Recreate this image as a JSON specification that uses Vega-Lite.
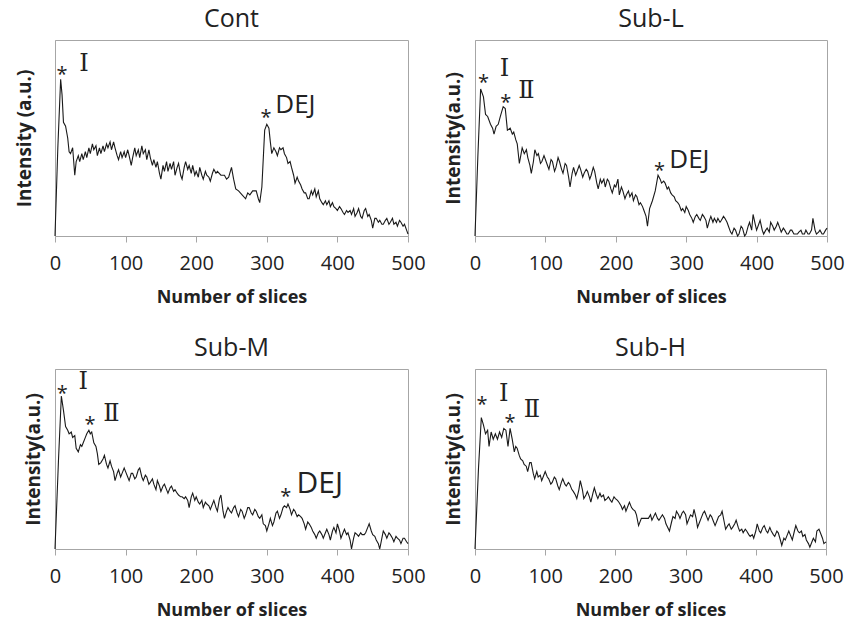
{
  "$schema": "https://vega.github.io/schema/vega-lite/v6.json",
  "background": "white",
  "padding": {"left": 14, "top": 6, "right": 5, "bottom": 5},
  "bounds": "flush",
  "spacing": 329,
  "config": {
    "font": "Open Sans",
    "view": {"stroke": "#a6a6a6", "strokeWidth": 1},
    "title": {"fontSize": 25, "fontWeight": "normal", "color": "#222222", "offset": 8, "font": "Open Sans"},
    "axisX": {"domainColor": "#a6a6a6", "tickColor": "#a6a6a6", "tickSize": 6, "labelFontSize": 20, "labelColor": "#222222", "labelPadding": 11, "labelFlush": false, "titleFontSize": 18, "titleFontWeight": "bold", "titleColor": "#222222", "titlePadding": 15, "grid": false, "labelFont": "Open Sans", "titleFont": "Open Sans"},
    "axisY": {"domainColor": "#a6a6a6", "labels": false, "ticks": false, "grid": false, "titleFontSize": 19, "titleFontWeight": "bold", "titleColor": "#222222", "titlePadding": 12, "titleFont": "Open Sans"}
  },
  "datasets": {
    "cont": [
      {"slice":0,"intensity":0},{"slice":4,"intensity":45},{"slice":8,"intensity":80},{"slice":10,"intensity":72},{"slice":12,"intensity":58},{"slice":15,"intensity":56},{"slice":18,"intensity":50},{"slice":20,"intensity":43},{"slice":22,"intensity":42},{"slice":25,"intensity":45},{"slice":28,"intensity":31},{"slice":30,"intensity":38},{"slice":33,"intensity":41},{"slice":35,"intensity":38},{"slice":38,"intensity":42},{"slice":40,"intensity":39},{"slice":43,"intensity":43},{"slice":45,"intensity":40},{"slice":48,"intensity":45},{"slice":50,"intensity":42},{"slice":53,"intensity":47},{"slice":55,"intensity":44},{"slice":58,"intensity":46},{"slice":60,"intensity":41},{"slice":63,"intensity":45},{"slice":65,"intensity":42},{"slice":68,"intensity":46},{"slice":70,"intensity":43},{"slice":73,"intensity":47},{"slice":75,"intensity":45},{"slice":78,"intensity":48},{"slice":80,"intensity":44},{"slice":83,"intensity":48},{"slice":85,"intensity":45},{"slice":88,"intensity":41},{"slice":90,"intensity":39},{"slice":93,"intensity":43},{"slice":95,"intensity":40},{"slice":98,"intensity":43},{"slice":100,"intensity":40},{"slice":103,"intensity":44},{"slice":105,"intensity":41},{"slice":108,"intensity":36},{"slice":110,"intensity":40},{"slice":113,"intensity":45},{"slice":115,"intensity":41},{"slice":118,"intensity":44},{"slice":120,"intensity":40},{"slice":123,"intensity":46},{"slice":125,"intensity":42},{"slice":128,"intensity":44},{"slice":130,"intensity":39},{"slice":133,"intensity":44},{"slice":135,"intensity":40},{"slice":138,"intensity":36},{"slice":140,"intensity":39},{"slice":143,"intensity":35},{"slice":145,"intensity":38},{"slice":148,"intensity":32},{"slice":150,"intensity":29},{"slice":153,"intensity":36},{"slice":155,"intensity":33},{"slice":158,"intensity":38},{"slice":160,"intensity":33},{"slice":163,"intensity":37},{"slice":165,"intensity":34},{"slice":168,"intensity":38},{"slice":170,"intensity":31},{"slice":173,"intensity":35},{"slice":175,"intensity":37},{"slice":178,"intensity":31},{"slice":180,"intensity":29},{"slice":183,"intensity":35},{"slice":185,"intensity":38},{"slice":188,"intensity":34},{"slice":190,"intensity":36},{"slice":193,"intensity":32},{"slice":195,"intensity":36},{"slice":198,"intensity":31},{"slice":200,"intensity":33},{"slice":203,"intensity":30},{"slice":205,"intensity":35},{"slice":208,"intensity":31},{"slice":210,"intensity":29},{"slice":213,"intensity":33},{"slice":215,"intensity":31},{"slice":218,"intensity":30},{"slice":220,"intensity":28},{"slice":223,"intensity":32},{"slice":225,"intensity":34},{"slice":228,"intensity":32},{"slice":230,"intensity":33},{"slice":235,"intensity":31},{"slice":240,"intensity":31},{"slice":243,"intensity":29},{"slice":246,"intensity":30},{"slice":250,"intensity":35},{"slice":253,"intensity":29},{"slice":256,"intensity":24},{"slice":260,"intensity":23},{"slice":265,"intensity":21},{"slice":270,"intensity":19},{"slice":273,"intensity":22},{"slice":276,"intensity":21},{"slice":280,"intensity":23},{"slice":285,"intensity":23},{"slice":288,"intensity":19},{"slice":290,"intensity":17},{"slice":293,"intensity":25},{"slice":297,"intensity":54},{"slice":300,"intensity":57},{"slice":303,"intensity":55},{"slice":305,"intensity":48},{"slice":307,"intensity":42},{"slice":310,"intensity":45},{"slice":313,"intensity":43},{"slice":315,"intensity":41},{"slice":318,"intensity":45},{"slice":320,"intensity":44},{"slice":323,"intensity":45},{"slice":325,"intensity":42},{"slice":328,"intensity":40},{"slice":330,"intensity":37},{"slice":333,"intensity":38},{"slice":335,"intensity":35},{"slice":338,"intensity":31},{"slice":340,"intensity":27},{"slice":343,"intensity":30},{"slice":345,"intensity":28},{"slice":348,"intensity":26},{"slice":350,"intensity":24},{"slice":353,"intensity":22},{"slice":355,"intensity":22},{"slice":358,"intensity":19},{"slice":360,"intensity":19},{"slice":363,"intensity":23},{"slice":365,"intensity":21},{"slice":368,"intensity":24},{"slice":370,"intensity":20},{"slice":373,"intensity":23},{"slice":375,"intensity":19},{"slice":378,"intensity":17},{"slice":380,"intensity":16},{"slice":383,"intensity":18},{"slice":385,"intensity":16},{"slice":388,"intensity":18},{"slice":390,"intensity":15},{"slice":393,"intensity":17},{"slice":395,"intensity":15},{"slice":398,"intensity":14},{"slice":400,"intensity":13},{"slice":403,"intensity":15},{"slice":405,"intensity":14},{"slice":408,"intensity":12},{"slice":410,"intensity":11},{"slice":413,"intensity":13},{"slice":415,"intensity":12},{"slice":418,"intensity":13},{"slice":420,"intensity":11},{"slice":423,"intensity":14},{"slice":425,"intensity":10},{"slice":428,"intensity":12},{"slice":430,"intensity":14},{"slice":433,"intensity":10},{"slice":435,"intensity":9},{"slice":438,"intensity":13},{"slice":440,"intensity":14},{"slice":443,"intensity":10},{"slice":445,"intensity":11},{"slice":448,"intensity":8},{"slice":450,"intensity":4},{"slice":453,"intensity":9},{"slice":455,"intensity":9},{"slice":458,"intensity":7},{"slice":460,"intensity":8},{"slice":463,"intensity":6},{"slice":465,"intensity":6},{"slice":468,"intensity":8},{"slice":470,"intensity":9},{"slice":473,"intensity":6},{"slice":475,"intensity":7},{"slice":478,"intensity":9},{"slice":480,"intensity":6},{"slice":483,"intensity":7},{"slice":485,"intensity":5},{"slice":488,"intensity":8},{"slice":490,"intensity":7},{"slice":493,"intensity":5},{"slice":495,"intensity":6},{"slice":498,"intensity":3},{"slice":500,"intensity":1}
    ],
    "subl": [
      {"slice":0,"intensity":0},{"slice":4,"intensity":40},{"slice":8,"intensity":75},{"slice":12,"intensity":71},{"slice":15,"intensity":62},{"slice":18,"intensity":61},{"slice":22,"intensity":57},{"slice":25,"intensity":55},{"slice":27,"intensity":52},{"slice":30,"intensity":56},{"slice":33,"intensity":57},{"slice":36,"intensity":61},{"slice":40,"intensity":66},{"slice":43,"intensity":65},{"slice":46,"intensity":54},{"slice":50,"intensity":55},{"slice":53,"intensity":52},{"slice":55,"intensity":53},{"slice":58,"intensity":49},{"slice":60,"intensity":47},{"slice":63,"intensity":37},{"slice":65,"intensity":41},{"slice":67,"intensity":45},{"slice":70,"intensity":42},{"slice":73,"intensity":44},{"slice":75,"intensity":40},{"slice":78,"intensity":36},{"slice":80,"intensity":32},{"slice":83,"intensity":38},{"slice":85,"intensity":44},{"slice":88,"intensity":41},{"slice":90,"intensity":42},{"slice":93,"intensity":37},{"slice":95,"intensity":38},{"slice":98,"intensity":41},{"slice":100,"intensity":39},{"slice":103,"intensity":36},{"slice":105,"intensity":34},{"slice":108,"intensity":39},{"slice":110,"intensity":38},{"slice":113,"intensity":33},{"slice":115,"intensity":35},{"slice":118,"intensity":40},{"slice":120,"intensity":38},{"slice":123,"intensity":34},{"slice":125,"intensity":32},{"slice":128,"intensity":37},{"slice":130,"intensity":36},{"slice":133,"intensity":30},{"slice":135,"intensity":25},{"slice":138,"intensity":32},{"slice":140,"intensity":35},{"slice":143,"intensity":31},{"slice":145,"intensity":33},{"slice":148,"intensity":36},{"slice":150,"intensity":34},{"slice":153,"intensity":30},{"slice":155,"intensity":32},{"slice":158,"intensity":34},{"slice":160,"intensity":33},{"slice":163,"intensity":29},{"slice":165,"intensity":31},{"slice":168,"intensity":35},{"slice":170,"intensity":33},{"slice":173,"intensity":27},{"slice":175,"intensity":24},{"slice":178,"intensity":29},{"slice":180,"intensity":27},{"slice":183,"intensity":29},{"slice":185,"intensity":25},{"slice":188,"intensity":29},{"slice":190,"intensity":28},{"slice":193,"intensity":24},{"slice":195,"intensity":22},{"slice":198,"intensity":26},{"slice":200,"intensity":25},{"slice":203,"intensity":29},{"slice":205,"intensity":21},{"slice":208,"intensity":25},{"slice":210,"intensity":23},{"slice":213,"intensity":19},{"slice":215,"intensity":21},{"slice":218,"intensity":23},{"slice":220,"intensity":20},{"slice":223,"intensity":22},{"slice":225,"intensity":18},{"slice":228,"intensity":21},{"slice":230,"intensity":20},{"slice":233,"intensity":16},{"slice":235,"intensity":17},{"slice":238,"intensity":15},{"slice":240,"intensity":13},{"slice":243,"intensity":10},{"slice":245,"intensity":5},{"slice":248,"intensity":14},{"slice":252,"intensity":18},{"slice":256,"intensity":23},{"slice":260,"intensity":31},{"slice":263,"intensity":29},{"slice":265,"intensity":27},{"slice":268,"intensity":28},{"slice":270,"intensity":27},{"slice":273,"intensity":24},{"slice":275,"intensity":25},{"slice":278,"intensity":22},{"slice":280,"intensity":21},{"slice":283,"intensity":20},{"slice":285,"intensity":18},{"slice":288,"intensity":17},{"slice":290,"intensity":16},{"slice":293,"intensity":13},{"slice":295,"intensity":14},{"slice":298,"intensity":12},{"slice":300,"intensity":15},{"slice":303,"intensity":13},{"slice":305,"intensity":11},{"slice":308,"intensity":9},{"slice":310,"intensity":7},{"slice":313,"intensity":10},{"slice":315,"intensity":11},{"slice":318,"intensity":9},{"slice":320,"intensity":8},{"slice":323,"intensity":11},{"slice":325,"intensity":10},{"slice":328,"intensity":8},{"slice":330,"intensity":4},{"slice":333,"intensity":8},{"slice":335,"intensity":10},{"slice":338,"intensity":7},{"slice":340,"intensity":9},{"slice":343,"intensity":7},{"slice":345,"intensity":9},{"slice":348,"intensity":7},{"slice":350,"intensity":8},{"slice":353,"intensity":10},{"slice":355,"intensity":9},{"slice":358,"intensity":7},{"slice":360,"intensity":5},{"slice":363,"intensity":2},{"slice":365,"intensity":1},{"slice":368,"intensity":4},{"slice":370,"intensity":3},{"slice":373,"intensity":0},{"slice":375,"intensity":1},{"slice":378,"intensity":5},{"slice":380,"intensity":4},{"slice":383,"intensity":0},{"slice":385,"intensity":1},{"slice":388,"intensity":5},{"slice":390,"intensity":7},{"slice":393,"intensity":3},{"slice":395,"intensity":11},{"slice":398,"intensity":6},{"slice":400,"intensity":3},{"slice":403,"intensity":6},{"slice":405,"intensity":8},{"slice":408,"intensity":3},{"slice":410,"intensity":1},{"slice":413,"intensity":3},{"slice":415,"intensity":4},{"slice":418,"intensity":2},{"slice":420,"intensity":7},{"slice":423,"intensity":5},{"slice":425,"intensity":3},{"slice":428,"intensity":5},{"slice":430,"intensity":7},{"slice":433,"intensity":4},{"slice":435,"intensity":2},{"slice":438,"intensity":4},{"slice":440,"intensity":3},{"slice":443,"intensity":1},{"slice":445,"intensity":1},{"slice":448,"intensity":3},{"slice":450,"intensity":3},{"slice":453,"intensity":1},{"slice":455,"intensity":1},{"slice":458,"intensity":1},{"slice":460,"intensity":2},{"slice":463,"intensity":3},{"slice":465,"intensity":1},{"slice":468,"intensity":1},{"slice":470,"intensity":3},{"slice":473,"intensity":1},{"slice":475,"intensity":1},{"slice":478,"intensity":3},{"slice":480,"intensity":9},{"slice":483,"intensity":3},{"slice":485,"intensity":1},{"slice":488,"intensity":2},{"slice":490,"intensity":3},{"slice":493,"intensity":1},{"slice":495,"intensity":1},{"slice":498,"intensity":3},{"slice":500,"intensity":4}
    ],
    "subm": [
      {"slice":0,"intensity":0},{"slice":5,"intensity":50},{"slice":9,"intensity":85},{"slice":12,"intensity":77},{"slice":15,"intensity":68},{"slice":18,"intensity":66},{"slice":20,"intensity":64},{"slice":23,"intensity":65},{"slice":25,"intensity":62},{"slice":28,"intensity":63},{"slice":30,"intensity":56},{"slice":33,"intensity":54},{"slice":36,"intensity":58},{"slice":38,"intensity":57},{"slice":40,"intensity":59},{"slice":43,"intensity":62},{"slice":45,"intensity":64},{"slice":48,"intensity":66},{"slice":50,"intensity":64},{"slice":52,"intensity":65},{"slice":55,"intensity":59},{"slice":58,"intensity":57},{"slice":60,"intensity":53},{"slice":62,"intensity":47},{"slice":65,"intensity":48},{"slice":68,"intensity":50},{"slice":70,"intensity":52},{"slice":73,"intensity":47},{"slice":75,"intensity":45},{"slice":78,"intensity":49},{"slice":80,"intensity":46},{"slice":83,"intensity":43},{"slice":85,"intensity":38},{"slice":88,"intensity":42},{"slice":90,"intensity":44},{"slice":93,"intensity":40},{"slice":95,"intensity":42},{"slice":98,"intensity":45},{"slice":100,"intensity":43},{"slice":103,"intensity":40},{"slice":105,"intensity":38},{"slice":108,"intensity":42},{"slice":110,"intensity":42},{"slice":113,"intensity":39},{"slice":115,"intensity":40},{"slice":118,"intensity":44},{"slice":120,"intensity":45},{"slice":123,"intensity":40},{"slice":125,"intensity":38},{"slice":128,"intensity":41},{"slice":130,"intensity":40},{"slice":133,"intensity":36},{"slice":135,"intensity":37},{"slice":138,"intensity":39},{"slice":140,"intensity":36},{"slice":143,"intensity":33},{"slice":145,"intensity":38},{"slice":148,"intensity":35},{"slice":150,"intensity":32},{"slice":153,"intensity":35},{"slice":155,"intensity":36},{"slice":158,"intensity":33},{"slice":160,"intensity":31},{"slice":163,"intensity":34},{"slice":165,"intensity":35},{"slice":168,"intensity":32},{"slice":170,"intensity":33},{"slice":173,"intensity":31},{"slice":175,"intensity":30},{"slice":178,"intensity":29},{"slice":180,"intensity":29},{"slice":183,"intensity":28},{"slice":185,"intensity":29},{"slice":188,"intensity":27},{"slice":190,"intensity":23},{"slice":193,"intensity":29},{"slice":195,"intensity":31},{"slice":198,"intensity":27},{"slice":200,"intensity":29},{"slice":203,"intensity":26},{"slice":205,"intensity":25},{"slice":208,"intensity":27},{"slice":210,"intensity":23},{"slice":213,"intensity":26},{"slice":215,"intensity":25},{"slice":218,"intensity":24},{"slice":220,"intensity":22},{"slice":223,"intensity":25},{"slice":225,"intensity":27},{"slice":228,"intensity":23},{"slice":230,"intensity":21},{"slice":233,"intensity":28},{"slice":235,"intensity":30},{"slice":238,"intensity":21},{"slice":240,"intensity":17},{"slice":243,"intensity":21},{"slice":245,"intensity":23},{"slice":248,"intensity":21},{"slice":250,"intensity":20},{"slice":253,"intensity":23},{"slice":255,"intensity":24},{"slice":258,"intensity":20},{"slice":260,"intensity":18},{"slice":263,"intensity":22},{"slice":265,"intensity":21},{"slice":268,"intensity":17},{"slice":270,"intensity":19},{"slice":273,"intensity":23},{"slice":275,"intensity":23},{"slice":278,"intensity":20},{"slice":280,"intensity":19},{"slice":283,"intensity":22},{"slice":285,"intensity":21},{"slice":288,"intensity":18},{"slice":290,"intensity":17},{"slice":293,"intensity":19},{"slice":295,"intensity":14},{"slice":298,"intensity":13},{"slice":300,"intensity":10},{"slice":303,"intensity":14},{"slice":305,"intensity":17},{"slice":308,"intensity":13},{"slice":310,"intensity":15},{"slice":313,"intensity":20},{"slice":315,"intensity":21},{"slice":318,"intensity":17},{"slice":320,"intensity":19},{"slice":323,"intensity":23},{"slice":325,"intensity":24},{"slice":328,"intensity":23},{"slice":330,"intensity":25},{"slice":333,"intensity":22},{"slice":335,"intensity":19},{"slice":338,"intensity":22},{"slice":340,"intensity":21},{"slice":343,"intensity":18},{"slice":345,"intensity":19},{"slice":348,"intensity":18},{"slice":350,"intensity":17},{"slice":353,"intensity":14},{"slice":355,"intensity":11},{"slice":358,"intensity":15},{"slice":360,"intensity":14},{"slice":363,"intensity":12},{"slice":365,"intensity":10},{"slice":368,"intensity":8},{"slice":370,"intensity":6},{"slice":373,"intensity":9},{"slice":375,"intensity":10},{"slice":378,"intensity":8},{"slice":380,"intensity":6},{"slice":383,"intensity":9},{"slice":385,"intensity":11},{"slice":388,"intensity":8},{"slice":390,"intensity":5},{"slice":393,"intensity":10},{"slice":395,"intensity":12},{"slice":398,"intensity":9},{"slice":400,"intensity":14},{"slice":403,"intensity":10},{"slice":405,"intensity":6},{"slice":408,"intensity":9},{"slice":410,"intensity":11},{"slice":413,"intensity":8},{"slice":415,"intensity":9},{"slice":418,"intensity":5},{"slice":420,"intensity":0},{"slice":423,"intensity":6},{"slice":425,"intensity":9},{"slice":428,"intensity":8},{"slice":430,"intensity":7},{"slice":433,"intensity":9},{"slice":435,"intensity":8},{"slice":438,"intensity":8},{"slice":440,"intensity":9},{"slice":443,"intensity":12},{"slice":445,"intensity":14},{"slice":448,"intensity":10},{"slice":450,"intensity":8},{"slice":453,"intensity":7},{"slice":455,"intensity":5},{"slice":458,"intensity":3},{"slice":460,"intensity":0},{"slice":463,"intensity":6},{"slice":465,"intensity":10},{"slice":468,"intensity":8},{"slice":470,"intensity":6},{"slice":473,"intensity":9},{"slice":475,"intensity":8},{"slice":478,"intensity":6},{"slice":480,"intensity":4},{"slice":483,"intensity":7},{"slice":485,"intensity":6},{"slice":488,"intensity":5},{"slice":490,"intensity":3},{"slice":493,"intensity":6},{"slice":495,"intensity":6},{"slice":498,"intensity":4},{"slice":500,"intensity":3}
    ],
    "subh": [
      {"slice":0,"intensity":0},{"slice":5,"intensity":45},{"slice":9,"intensity":73},{"slice":12,"intensity":69},{"slice":15,"intensity":64},{"slice":18,"intensity":66},{"slice":20,"intensity":57},{"slice":23,"intensity":65},{"slice":26,"intensity":61},{"slice":29,"intensity":64},{"slice":32,"intensity":61},{"slice":35,"intensity":65},{"slice":38,"intensity":62},{"slice":41,"intensity":67},{"slice":44,"intensity":66},{"slice":47,"intensity":57},{"slice":50,"intensity":67},{"slice":53,"intensity":61},{"slice":56,"intensity":54},{"slice":58,"intensity":57},{"slice":60,"intensity":56},{"slice":63,"intensity":52},{"slice":65,"intensity":50},{"slice":68,"intensity":49},{"slice":70,"intensity":47},{"slice":73,"intensity":46},{"slice":75,"intensity":43},{"slice":78,"intensity":48},{"slice":80,"intensity":48},{"slice":83,"intensity":42},{"slice":85,"intensity":39},{"slice":88,"intensity":43},{"slice":90,"intensity":40},{"slice":93,"intensity":41},{"slice":95,"intensity":38},{"slice":98,"intensity":41},{"slice":100,"intensity":43},{"slice":103,"intensity":40},{"slice":105,"intensity":39},{"slice":108,"intensity":36},{"slice":110,"intensity":37},{"slice":113,"intensity":40},{"slice":115,"intensity":39},{"slice":118,"intensity":35},{"slice":120,"intensity":33},{"slice":123,"intensity":37},{"slice":125,"intensity":39},{"slice":128,"intensity":36},{"slice":130,"intensity":35},{"slice":133,"intensity":37},{"slice":135,"intensity":36},{"slice":138,"intensity":33},{"slice":140,"intensity":32},{"slice":143,"intensity":30},{"slice":145,"intensity":28},{"slice":148,"intensity":33},{"slice":150,"intensity":38},{"slice":153,"intensity":33},{"slice":155,"intensity":28},{"slice":158,"intensity":30},{"slice":160,"intensity":32},{"slice":163,"intensity":29},{"slice":165,"intensity":26},{"slice":168,"intensity":31},{"slice":170,"intensity":34},{"slice":173,"intensity":30},{"slice":175,"intensity":28},{"slice":178,"intensity":31},{"slice":180,"intensity":29},{"slice":183,"intensity":30},{"slice":185,"intensity":27},{"slice":188,"intensity":28},{"slice":190,"intensity":29},{"slice":193,"intensity":27},{"slice":195,"intensity":26},{"slice":198,"intensity":29},{"slice":200,"intensity":28},{"slice":203,"intensity":27},{"slice":205,"intensity":26},{"slice":208,"intensity":24},{"slice":210,"intensity":22},{"slice":213,"intensity":24},{"slice":215,"intensity":21},{"slice":218,"intensity":24},{"slice":220,"intensity":26},{"slice":223,"intensity":23},{"slice":225,"intensity":22},{"slice":228,"intensity":21},{"slice":230,"intensity":19},{"slice":233,"intensity":13},{"slice":237,"intensity":17},{"slice":242,"intensity":17},{"slice":247,"intensity":17},{"slice":250,"intensity":19},{"slice":252,"intensity":16},{"slice":257,"intensity":20},{"slice":260,"intensity":17},{"slice":262,"intensity":16},{"slice":267,"intensity":19},{"slice":270,"intensity":17},{"slice":272,"intensity":14},{"slice":277,"intensity":10},{"slice":280,"intensity":15},{"slice":282,"intensity":18},{"slice":285,"intensity":17},{"slice":287,"intensity":21},{"slice":290,"intensity":19},{"slice":292,"intensity":17},{"slice":295,"intensity":20},{"slice":297,"intensity":21},{"slice":300,"intensity":19},{"slice":302,"intensity":14},{"slice":305,"intensity":17},{"slice":307,"intensity":19},{"slice":310,"intensity":18},{"slice":312,"intensity":22},{"slice":315,"intensity":17},{"slice":317,"intensity":12},{"slice":320,"intensity":15},{"slice":322,"intensity":17},{"slice":325,"intensity":20},{"slice":327,"intensity":21},{"slice":330,"intensity":18},{"slice":332,"intensity":16},{"slice":335,"intensity":19},{"slice":337,"intensity":18},{"slice":340,"intensity":15},{"slice":342,"intensity":13},{"slice":345,"intensity":16},{"slice":347,"intensity":18},{"slice":350,"intensity":19},{"slice":352,"intensity":21},{"slice":355,"intensity":15},{"slice":357,"intensity":11},{"slice":360,"intensity":13},{"slice":362,"intensity":14},{"slice":365,"intensity":11},{"slice":367,"intensity":12},{"slice":370,"intensity":14},{"slice":372,"intensity":16},{"slice":375,"intensity":12},{"slice":377,"intensity":10},{"slice":380,"intensity":11},{"slice":382,"intensity":9},{"slice":385,"intensity":11},{"slice":387,"intensity":10},{"slice":390,"intensity":8},{"slice":392,"intensity":7},{"slice":395,"intensity":8},{"slice":397,"intensity":6},{"slice":400,"intensity":10},{"slice":402,"intensity":14},{"slice":405,"intensity":10},{"slice":407,"intensity":9},{"slice":410,"intensity":12},{"slice":412,"intensity":13},{"slice":415,"intensity":10},{"slice":417,"intensity":9},{"slice":420,"intensity":12},{"slice":422,"intensity":10},{"slice":425,"intensity":8},{"slice":427,"intensity":7},{"slice":430,"intensity":10},{"slice":432,"intensity":9},{"slice":435,"intensity":5},{"slice":437,"intensity":2},{"slice":440,"intensity":6},{"slice":442,"intensity":5},{"slice":445,"intensity":8},{"slice":447,"intensity":10},{"slice":450,"intensity":7},{"slice":452,"intensity":5},{"slice":455,"intensity":10},{"slice":457,"intensity":13},{"slice":460,"intensity":10},{"slice":462,"intensity":9},{"slice":465,"intensity":10},{"slice":467,"intensity":7},{"slice":470,"intensity":8},{"slice":472,"intensity":5},{"slice":475,"intensity":3},{"slice":477,"intensity":1},{"slice":480,"intensity":4},{"slice":482,"intensity":6},{"slice":485,"intensity":4},{"slice":487,"intensity":10},{"slice":490,"intensity":11},{"slice":492,"intensity":9},{"slice":495,"intensity":6},{"slice":497,"intensity":3},{"slice":500,"intensity":4}
    ]
  },
  "vconcat": [
    {
      "bounds": "flush",
      "spacing": 67,
      "hconcat": [
        {
          "title": "Cont",
          "width": 353, "height": 196,
          "layer": [
            {"data": {"name": "cont"}, "mark": {"type": "line", "color": "#1a1a1a", "strokeWidth": 1.1},
             "encoding": {"x": {"field": "slice", "type": "quantitative", "scale": {"domain": [0, 500], "nice": false}, "axis": {"title": "Number of  slices", "values": [0, 100, 200, 300, 400, 500]}},
                          "y": {"field": "intensity", "type": "quantitative", "scale": {"domain": [0, 100], "nice": false}, "axis": {"title": "Intensity (a.u.)", "titlePadding": 21}}}},
            {"data": {"values": [{"slice": 10, "intensity": 82, "label": "*"}, {"slice": 299, "intensity": 60, "label": "*"}]},
             "mark": {"type": "text", "font": "Open Sans", "fontSize": 20, "color": "#222222", "baseline": "middle"},
             "encoding": {"x": {"field": "slice", "type": "quantitative"}, "y": {"field": "intensity", "type": "quantitative"}, "text": {"field": "label"}}},
            {"data": {"values": [{"slice": 41, "intensity": 88, "label": "I"}]},
             "mark": {"type": "text", "font": "DejaVu Serif", "fontSize": 24, "color": "#222222", "baseline": "middle"},
             "encoding": {"x": {"field": "slice", "type": "quantitative"}, "y": {"field": "intensity", "type": "quantitative"}, "text": {"field": "label"}}},
            {"data": {"values": [{"slice": 312, "intensity": 67, "label": "DEJ"}]},
             "mark": {"type": "text", "font": "Open Sans", "fontSize": 26, "color": "#222222", "baseline": "middle", "align": "left"},
             "encoding": {"x": {"field": "slice", "type": "quantitative"}, "y": {"field": "intensity", "type": "quantitative"}, "text": {"field": "label"}}}
          ]
        },
        {
          "title": "Sub-L",
          "width": 352, "height": 196,
          "layer": [
            {"data": {"name": "subl"}, "mark": {"type": "line", "color": "#1a1a1a", "strokeWidth": 1.1},
             "encoding": {"x": {"field": "slice", "type": "quantitative", "scale": {"domain": [0, 500], "nice": false}, "axis": {"title": "Number of slices", "values": [0, 100, 200, 300, 400, 500]}},
                          "y": {"field": "intensity", "type": "quantitative", "scale": {"domain": [0, 100], "nice": false}, "axis": {"title": "Intensity(a.u.)"}}}},
            {"data": {"values": [{"slice": 12, "intensity": 78, "label": "*"}, {"slice": 43.6, "intensity": 68, "label": "*"}, {"slice": 262, "intensity": 33, "label": "*"}]},
             "mark": {"type": "text", "font": "Open Sans", "fontSize": 20, "color": "#222222", "baseline": "middle"},
             "encoding": {"x": {"field": "slice", "type": "quantitative"}, "y": {"field": "intensity", "type": "quantitative"}, "text": {"field": "label"}}},
            {"data": {"values": [{"slice": 42, "intensity": 85, "label": "I"}, {"slice": 73, "intensity": 74, "label": "Ⅱ"}]},
             "mark": {"type": "text", "font": "DejaVu Serif", "fontSize": 24, "color": "#222222", "baseline": "middle"},
             "encoding": {"x": {"field": "slice", "type": "quantitative"}, "y": {"field": "intensity", "type": "quantitative"}, "text": {"field": "label"}}},
            {"data": {"values": [{"slice": 276, "intensity": 39, "label": "DEJ"}]},
             "mark": {"type": "text", "font": "Open Sans", "fontSize": 26, "color": "#222222", "baseline": "middle", "align": "left"},
             "encoding": {"x": {"field": "slice", "type": "quantitative"}, "y": {"field": "intensity", "type": "quantitative"}, "text": {"field": "label"}}}
          ]
        }
      ]
    },
    {
      "bounds": "flush",
      "spacing": 67,
      "hconcat": [
        {
          "title": "Sub-M",
          "width": 353, "height": 180,
          "layer": [
            {"data": {"name": "subm"}, "mark": {"type": "line", "color": "#1a1a1a", "strokeWidth": 1.1},
             "encoding": {"x": {"field": "slice", "type": "quantitative", "scale": {"domain": [0, 500], "nice": false}, "axis": {"title": "Number of slices", "values": [0, 100, 200, 300, 400, 500]}},
                          "y": {"field": "intensity", "type": "quantitative", "scale": {"domain": [0, 100], "nice": false}, "axis": {"title": "Intensity(a.u.)"}}}},
            {"data": {"values": [{"slice": 10.4, "intensity": 86, "label": "*"}, {"slice": 49.5, "intensity": 69, "label": "*"}, {"slice": 327, "intensity": 29, "label": "*"}]},
             "mark": {"type": "text", "font": "Open Sans", "fontSize": 20, "color": "#222222", "baseline": "middle"},
             "encoding": {"x": {"field": "slice", "type": "quantitative"}, "y": {"field": "intensity", "type": "quantitative"}, "text": {"field": "label"}}},
            {"data": {"values": [{"slice": 40, "intensity": 93, "label": "I"}, {"slice": 80, "intensity": 75, "label": "Ⅱ"}]},
             "mark": {"type": "text", "font": "DejaVu Serif", "fontSize": 24, "color": "#222222", "baseline": "middle"},
             "encoding": {"x": {"field": "slice", "type": "quantitative"}, "y": {"field": "intensity", "type": "quantitative"}, "text": {"field": "label"}}},
            {"data": {"values": [{"slice": 342, "intensity": 36, "label": "DEJ"}]},
             "mark": {"type": "text", "font": "Open Sans", "fontSize": 30, "color": "#222222", "baseline": "middle", "align": "left"},
             "encoding": {"x": {"field": "slice", "type": "quantitative"}, "y": {"field": "intensity", "type": "quantitative"}, "text": {"field": "label"}}}
          ]
        },
        {
          "title": "Sub-H",
          "width": 351, "height": 180,
          "layer": [
            {"data": {"name": "subh"}, "mark": {"type": "line", "color": "#1a1a1a", "strokeWidth": 1.1},
             "encoding": {"x": {"field": "slice", "type": "quantitative", "scale": {"domain": [0, 500], "nice": false}, "axis": {"title": "Number of slices", "values": [0, 100, 200, 300, 400, 500]}},
                          "y": {"field": "intensity", "type": "quantitative", "scale": {"domain": [0, 100], "nice": false}, "axis": {"title": "Intensity(a.u.)"}}}},
            {"data": {"values": [{"slice": 10, "intensity": 80, "label": "*"}, {"slice": 50, "intensity": 70, "label": "*"}]},
             "mark": {"type": "text", "font": "Open Sans", "fontSize": 20, "color": "#222222", "baseline": "middle"},
             "encoding": {"x": {"field": "slice", "type": "quantitative"}, "y": {"field": "intensity", "type": "quantitative"}, "text": {"field": "label"}}},
            {"data": {"values": [{"slice": 41, "intensity": 86, "label": "I"}, {"slice": 81, "intensity": 77, "label": "Ⅱ"}]},
             "mark": {"type": "text", "font": "DejaVu Serif", "fontSize": 24, "color": "#222222", "baseline": "middle"},
             "encoding": {"x": {"field": "slice", "type": "quantitative"}, "y": {"field": "intensity", "type": "quantitative"}, "text": {"field": "label"}}}
          ]
        }
      ]
    }
  ]
}
